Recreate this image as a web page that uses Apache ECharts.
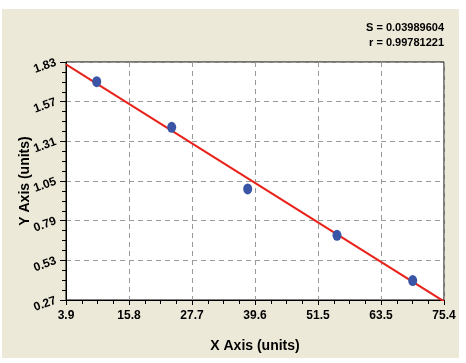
<!DOCTYPE html>
<html>
<head>
<meta charset="utf-8">
<script src="https://cdn.jsdelivr.net/npm/echarts@6/dist/echarts.min.js"></script>
<style>
html,body{margin:0;padding:0;background:#fff;}
#c{width:466px;height:363px;}
</style>
</head>
<body>
<div id="c"></div>
<script>
// ---- data ----
var xPoints = [9.71, 23.89, 38.27, 55.16, 69.48];
var yPoints = [1.701, 1.402, 0.998, 0.694, 0.397];
var fitLineX = [3.9, 75.4];
var fitLineY = [1.815, 0.2605];
var xTickLabels = ["3.9", "15.8", "27.7", "39.6", "51.5", "63.5", "75.4"];
var yTickLabels = ["0.27", "0.53", "0.79", "1.05", "1.31", "1.57", "1.83"];
var statS = "S = 0.03989604";
var statR = "r = 0.99781221";
var xMin = 3.9, xMax = 75.4, yMin = 0.27, yMax = 1.83;

// ---- tick value helpers ----
function majors(min, max, n) {
  var out = [], step = (max - min) / n;
  for (var i = 0; i <= n; i++) out.push(min + step * i);
  return out;
}
function minors(min, max, n, sub) {
  var out = [], step = (max - min) / n / sub;
  for (var i = 0; i <= n * sub; i++) if (i % sub !== 0) out.push(min + step * i);
  return out;
}
var xMaj = majors(xMin, xMax, xTickLabels.length - 1);
var yMaj = majors(yMin, yMax, yTickLabels.length - 1);
var xMin4 = minors(xMin, xMax, xTickLabels.length - 1, 4);
var yMin4 = minors(yMin, yMax, yTickLabels.length - 1, 4);
function labelFor(arr, min, max, v) {
  var i = Math.round((v - min) / ((max - min) / (arr.length - 1)));
  return arr[i];
}

var FONT = '"Liberation Sans", Arial, sans-serif';
var chart = echarts.init(document.getElementById('c'));
var splitStyle = {color: '#9a9a9a', width: 1, type: [5, 4]};
chart.setOption({
  backgroundColor: '#ffffff',
  animation: false,
  graphic: [
    {type: 'rect', z: -10, shape: {x: 2, y: 9, width: 457, height: 349}, style: {fill: '#ECE9D8'}},
    {type: 'text', z: 10, x: 444, y: 28, style: {text: statS, textAlign: 'right', textVerticalAlign: 'middle', font: 'bold 11px ' + FONT, fill: '#000'}},
    {type: 'text', z: 10, x: 444, y: 42.5, style: {text: statR, textAlign: 'right', textVerticalAlign: 'middle', font: 'bold 11px ' + FONT, fill: '#000'}}
  ],
  grid: {left: 66, top: 62, right: 22, bottom: 63, show: true, backgroundColor: '#ffffff', borderColor: '#000', borderWidth: 1},
  xAxis: [{
    type: 'value', min: xMin, max: xMax,
    name: 'X Axis (units)', nameLocation: 'middle', nameGap: 39, nameMoveOverlap: false,
    nameTextStyle: {fontFamily: FONT, fontWeight: 'bold', fontSize: 14, color: '#000'},
    axisLine: {onZero: false, lineStyle: {color: '#000', width: 1}},
    axisTick: {show: true, customValues: xMaj, length: 5, lineStyle: {color: '#000', width: 1}},
    axisLabel: {customValues: xMaj, margin: 10, fontFamily: FONT, fontWeight: 'bold', fontSize: 12, color: '#000',
      formatter: function (v) { return labelFor(xTickLabels, xMin, xMax, v); }},
    splitLine: {show: true, lineStyle: splitStyle}
  }, {
    type: 'value', min: xMin, max: xMax, position: 'bottom', offset: 0,
    axisLine: {show: true, onZero: false, lineStyle: {color: 'rgba(0,0,0,0)'}},
    axisTick: {show: true, customValues: xMin4, length: 4, lineStyle: {color: '#000', width: 1}},
    axisLabel: {show: false},
    splitLine: {show: false}
  }],
  yAxis: [{
    type: 'value', min: yMin, max: yMax,
    name: 'Y Axis (units)', nameLocation: 'middle', nameGap: 34, nameMoveOverlap: false,
    nameTextStyle: {fontFamily: FONT, fontWeight: 'bold', fontSize: 14, color: '#000'},
    axisLine: {show: true, onZero: false, lineStyle: {color: '#000', width: 1}},
    axisTick: {show: true, customValues: yMaj, length: 6, lineStyle: {color: '#000', width: 1}},
    axisLabel: {customValues: yMaj, rotate: 20, margin: 10, fontFamily: FONT, fontWeight: 'bold', fontSize: 12, color: '#000',
      formatter: function (v) { return labelFor(yTickLabels, yMin, yMax, v); }},
    splitLine: {show: true, lineStyle: splitStyle}
  }, {
    type: 'value', min: yMin, max: yMax, position: 'left', offset: 0,
    axisLine: {show: true, onZero: false, lineStyle: {color: 'rgba(0,0,0,0)'}},
    axisTick: {show: true, customValues: yMin4, length: 4, lineStyle: {color: '#000', width: 1}},
    axisLabel: {show: false},
    splitLine: {show: false}
  }],
  series: [{
    type: 'line', xAxisIndex: 1, yAxisIndex: 1,
    data: fitLineX.map(function (x, i) { return [x, fitLineY[i]]; }),
    showSymbol: false, symbol: 'none', clip: true,
    lineStyle: {color: '#E8231B', width: 2}, z: 3
  }, {
    type: 'scatter', xAxisIndex: 0, yAxisIndex: 0,
    data: xPoints.map(function (x, i) { return [x, yPoints[i]]; }),
    symbol: 'circle', symbolSize: [9, 11],
    itemStyle: {color: '#3A55A6', opacity: 1}, z: 4
  }]
});
</script>
</body>
</html>
